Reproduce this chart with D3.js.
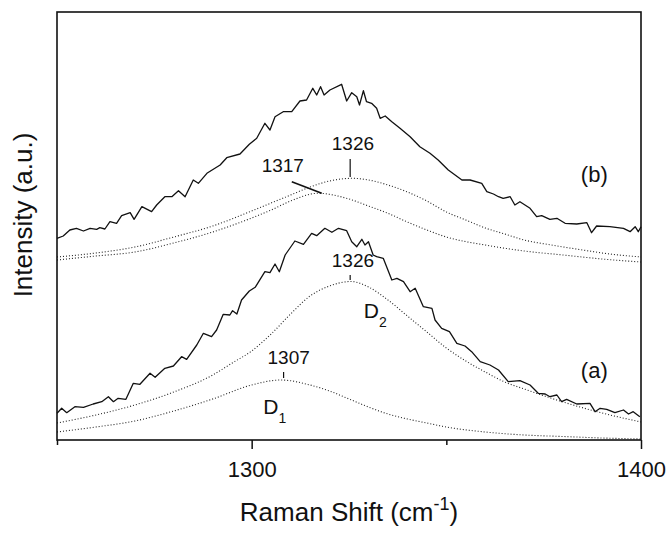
<!DOCTYPE html>
<html>
<head>
<meta charset="utf-8">
<script src="https://cdn.jsdelivr.net/npm/d3@7"></script>
<style>
  body { margin: 0; background: #fff; }
  svg { display: block; font-family: "Liberation Sans", Arial, sans-serif; }
</style>
</head>
<body>
<div id="chart"></div>
<script>
// spectrum (b), measured
const shiftB = [1250,1251.6,1253.3,1255,1256.8,1258.5,1260.2,1261,1262.3,1263.6,1265.3,1266.6,1268.8,1269.8,1271.8,1274.3,1275.6,1277.7,1279.5,1281.2,1282.9,1285,1286.3,1288.5,1291.9,1293.6,1297,1299.4,1301.3,1303.4,1304.7,1306,1308.1,1310.3,1312.4,1314.1,1315.7,1316.7,1317.7,1318.6,1320.1,1323.1,1324.4,1325.7,1327,1327.7,1328.7,1329.5,1330.8,1332.1,1333,1334.3,1336,1338.1,1340.7,1343.2,1345.8,1347.9,1350.5,1354,1356.1,1359.1,1360.4,1362.1,1363.4,1364.6,1366.4,1367.6,1368.9,1371.5,1373.2,1374.5,1376.6,1378.4,1380.5,1383.5,1386.1,1387.3,1388.6,1392,1395.5,1397.2,1398.5,1399.3,1400];
const intB = [201.7,204,210,211.7,209,211.7,210.7,212.3,211,218.3,216.7,224.3,227.3,220.7,233.3,228.3,235,243.3,243.3,249.3,243.3,260,256.7,266.7,275,282.3,286,295.7,301.7,316.7,310,323.3,328.3,328.3,339,340,351.7,345,353.3,345,350,355.7,339,347.3,343.3,335,349.3,338.3,336.7,331.7,321.7,324,318.3,311.7,303.3,293.3,286.7,280,270,260,260,256.7,248.3,246,243.3,241.7,243.3,235,238.3,231.7,223.3,224.3,220.7,221.7,216.7,216,217.3,207.3,214,213.3,211.7,208.3,213.3,208.3,213.3];

// spectrum (a), measured
const shiftA = [1250,1251.2,1252.5,1254.6,1256.8,1259.3,1261.5,1263.2,1264.5,1265.7,1267.7,1269.6,1271.3,1273.9,1275.2,1277.7,1279.9,1282,1283.3,1285.9,1287.6,1289.7,1291,1292.7,1294.4,1295.1,1296.2,1297.4,1299.4,1300.9,1303.4,1304.7,1306,1307.1,1308.6,1311.1,1313.3,1315.4,1316.7,1318.8,1320.6,1322.3,1324.4,1325.7,1327,1328.3,1329.1,1330,1331.2,1332.1,1333.8,1336,1337.3,1339,1340.7,1342,1344.1,1346.3,1347.1,1348.8,1350.8,1352.7,1354.8,1356.5,1358.7,1361.2,1363.4,1365.9,1368.9,1371.5,1373.6,1375.4,1376.6,1378.4,1379.6,1380.9,1383.5,1386.9,1388.2,1389.5,1391.2,1393.3,1395.5,1396.8,1398,1399.7];
const intA = [26.7,31.7,27.3,33.3,32.7,36,38.3,43.3,38.3,41.7,40.7,56.7,55.7,66.7,62.7,71.7,74,83.3,80.7,95,106.7,103.3,110,125.7,125,129.3,126,140,149,152.7,168.3,167.3,176,168.3,185,199,195.7,206.7,204.3,211.7,207.7,211.7,209.3,198.3,193.3,200.7,195,198.3,185,183.3,181.7,160,161.7,158.3,148.3,151.7,133.3,131.7,120,111.7,108.3,96.7,94,88.3,78.3,75,70,58.3,59.3,55,46.7,46,43.3,45,38.3,40.7,36,36.7,28.3,31.7,30.7,27.3,30,26,28.3,23.3];

// fitted components (dotted)
const fitShiftB2 = [1250,1260,1270,1280,1290,1300,1305,1310,1315,1320,1326,1330,1335,1340,1345,1350,1355,1360,1365,1370,1377,1385,1392,1400];
const fitB2 = [183,187,193,203,214,229,237,245,253,259,261.7,260,255,248,239,228,220,212,206,200,195,190,186,183];
const fitShiftB1 = [1250,1260,1270,1280,1290,1300,1305,1310,1317,1325,1330,1335,1340,1345,1350,1360,1370,1380,1390,1400];
const fitB1 = [180,184,188,197,208,222,230,239,246.7,241,234,226.7,218,210,203,195,189,185,181,178];
const fitShiftA2 = [1250,1260,1270,1280,1290,1295,1300,1305,1310,1315,1320,1325.5,1330,1335,1340,1345,1350,1355,1360,1365,1370,1380,1390,1400];
const fitA2 = [17,25,35,48,65,77,89,106,126,144,154,158.5,153,140,124,108,92,79,68,58,51,38,27,18];
const fitShiftA1 = [1250,1260,1270,1280,1290,1300,1307.5,1315,1320,1325,1330,1335,1340,1345,1350,1360,1370,1380,1390,1400];
const fitA1 = [8,13,19,29,41,55,60,55,49,41,33,26,21,17,13,8,5,3.5,2,1];

const xTicks = [1250, 1300, 1350, 1400];
const xLabeled = [1300, 1400];

const width = 672, height = 534;
const margin = { top: 12, right: 31, bottom: 94, left: 57 };
const w = width - margin.left - margin.right;
const h = height - margin.top - margin.bottom;

const svg = d3.select("#chart").append("svg")
  .attr("width", width)
  .attr("height", height);

const g = svg.append("g").attr("transform", `translate(${margin.left},${margin.top})`);

const x = d3.scaleLinear().domain([1250, 1400]).range([0, w]);
const y = d3.scaleLinear().domain([0, h]).range([h, 0]);

const zip = (xs, ys) => xs.map((v, i) => [v, ys[i]]);

const solid = d3.line().x(d => x(d[0])).y(d => y(d[1]));
const smooth = d3.line().x(d => x(d[0])).y(d => y(d[1])).curve(d3.curveMonotoneX);

// dotted fits
[[fitShiftB2, fitB2], [fitShiftB1, fitB1], [fitShiftA2, fitA2], [fitShiftA1, fitA1]].forEach(([xs, ys]) => {
  g.append("path")
    .attr("d", smooth(zip(xs, ys)))
    .attr("fill", "none")
    .attr("stroke", "#222")
    .attr("stroke-width", 1.1)
    .attr("stroke-dasharray", "1,2");
});

// measured spectra
[[shiftB, intB], [shiftA, intA]].forEach(([xs, ys]) => {
  g.append("path")
    .attr("d", solid(zip(xs, ys)))
    .attr("fill", "none")
    .attr("stroke", "#111")
    .attr("stroke-width", 1.3)
    .attr("stroke-linejoin", "round");
});

// frame
g.append("rect")
  .attr("width", w).attr("height", h)
  .attr("fill", "none").attr("stroke", "#111").attr("stroke-width", 1.6);

// x axis
const xAxis = g.append("g")
  .attr("transform", `translate(0,${h})`)
  .call(d3.axisBottom(x).tickValues(xTicks).tickSize(9).tickPadding(12)
    .tickFormat(d => xLabeled.includes(d) ? d : ""));
xAxis.select(".domain").remove();
xAxis.selectAll(".tick line").attr("stroke", "#111").attr("stroke-width", 1.5)
  .attr("y2", d => xLabeled.includes(d) ? 9 : 5);
xAxis.selectAll(".tick text")
  .attr("font-size", "22px")
  .attr("font-family", "Liberation Sans, Arial, sans-serif")
  .attr("fill", "#111");

// axis titles
const xt = svg.append("text")
  .attr("x", margin.left + w / 2)
  .attr("y", 521)
  .attr("text-anchor", "middle")
  .attr("font-size", "26px")
  .attr("fill", "#111");
xt.append("tspan").text("Raman Shift (cm");
xt.append("tspan").attr("font-size", "18px").attr("dy", -11).text("-1");
xt.append("tspan").attr("dy", 11).text(")");

svg.append("text")
  .attr("transform", `translate(32,215) rotate(-90)`)
  .attr("text-anchor", "middle")
  .attr("font-size", "26px")
  .attr("fill", "#111")
  .text("Intensity (a.u.)");

// annotations
const ann = (t, xv, py, size, anchor) => g.append("text")
  .attr("x", x(xv)).attr("y", py - margin.top)
  .attr("text-anchor", anchor || "middle")
  .attr("font-size", size + "px")
  .attr("fill", "#111")
  .text(t);

const mark = (x1, y1, x2, y2, sw) => g.append("line")
  .attr("x1", x(x1)).attr("y1", y1 - margin.top)
  .attr("x2", x(x2)).attr("y2", y2 - margin.top)
  .attr("stroke", "#111").attr("stroke-width", sw || 1.2);

ann("1326", 1326, 150, 19);
mark(1325.3, 159, 1325.3, 177);
ann("1317", 1308, 171.5, 19);
mark(1310.3, 181.7, 1318, 193.3, 1.6);
ann("(b)", 1388, 182, 22);

ann("1326", 1326, 266.5, 19);
mark(1325.3, 275, 1325.3, 280);
ann("1307", 1309.5, 364, 19);
mark(1308.2, 372, 1308.2, 378);
ann("(a)", 1388, 378, 22);

const dLabel = (xv, py, sub) => {
  const t = g.append("text")
    .attr("x", x(xv)).attr("y", py - margin.top)
    .attr("font-size", "21px").attr("fill", "#111");
  t.append("tspan").text("D");
  t.append("tspan").attr("font-size", "14px").attr("dy", 9).text(sub);
};
dLabel(1328.8, 318, "2");
dLabel(1303, 414, "1");
</script>
</body>
</html>
